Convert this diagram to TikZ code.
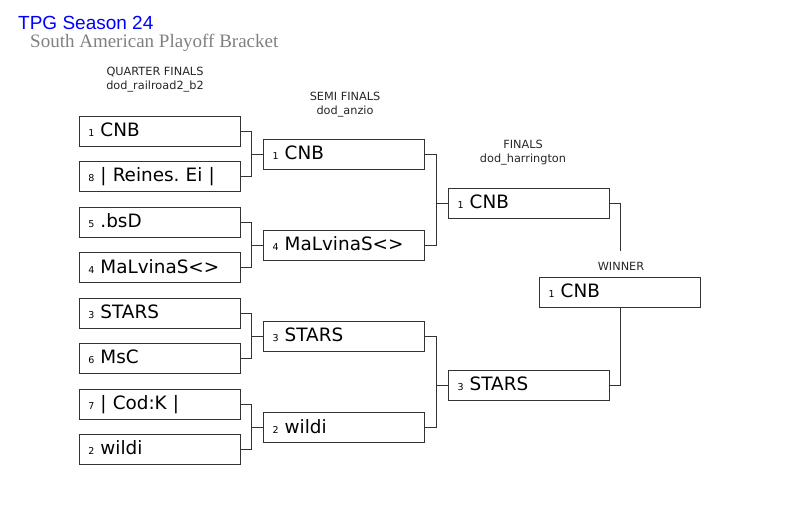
\documentclass[tikz,border=0pt]{standalone}
\usepackage{fontspec}
\setmainfont{DejaVu Sans}
\newfontfamily\titlefont{Liberation Sans}
\newfontfamily\subtitlefont{Liberation Serif}
\usepackage{xcolor}
\usetikzlibrary{calc}
\frenchspacing
\definecolor{titleblue}{RGB}{0,0,255}
\definecolor{subgray}{RGB}{128,128,128}
\tikzset{
	team/.style={
			draw=black!80, line width=0.9pt, rectangle,
			minimum width=161pt, minimum height=30pt,
			text width=143pt, inner xsep=9pt, inner ysep=0pt, align=left,
			text height=13.4pt, text depth=2pt,
			font=\fontsize{18.4}{20}\selectfont
		},
	roundlabel/.style={align=center, text=black!85, inner sep=0pt,
			font=\fontsize{11.3}{14}\selectfont},
	link/.style={draw=black!80, line width=0.9pt}
}
\newcommand{\seed}[1]{{\fontsize{9.5}{11}\selectfont #1}\ }

\begin{document}
\begin{tikzpicture}[x=1pt,y=-1pt]
		\useasboundingbox (0,0) rectangle (800,507);
		% Draw the title
		\node[anchor=base west, inner sep=0pt, text depth=0pt, text=titleblue, font=\titlefont\fontsize{19}{22}\selectfont] (title) at (18,29.5) {TPG Season 24};
		\node[anchor=base west, inner sep=0pt, text=subgray, font=\subtitlefont\fontsize{19}{22}\selectfont] (subtitle) at (30,47) {South American Playoff Bracket};
		% Draw the round labels
		\node[roundlabel] (qflabel) at (155,80) {QUARTER FINALS\\dod\_railroad2\_b2};
		\node[roundlabel] (sflabel) at (345,104.5) {SEMI FINALS\\dod\_anzio};
		\node[roundlabel] (flabel) at (523,152.5) {FINALS\\dod\_harrington};
		\node[roundlabel] (wlabel) at (621,266) {WINNER};
		% Draw the quarter finals
		\node[team] (q1) at (159.75,131) {\seed{1}CNB};
		\node[team] (q2) at (159.75,176) {\seed{8}| Reines. Ei |};
		\node[team] (q3) at (159.75,222) {\seed{5}.bsD};
		\node[team] (q4) at (159.75,267.7) {\seed{4}MaLvinaS<>};
		\node[team] (q5) at (159.75,313) {\seed{3}STARS};
		\node[team] (q6) at (159.75,358) {\seed{6}MsC};
		\node[team] (q7) at (159.75,404) {\seed{7}| Cod:K |};
		\node[team] (q8) at (159.75,449) {\seed{2}wildi};
		% Draw the semi finals
		\node[team] (s1) at (344,154) {\seed{1}CNB};
		\node[team] (s2) at (344,245) {\seed{4}MaLvinaS<>};
		\node[team] (s3) at (344,336) {\seed{3}STARS};
		\node[team] (s4) at (344,427.5) {\seed{2}wildi};
		% Draw the finals and the winner
		\node[team] (f1) at (529,203) {\seed{1}CNB};
		\node[team] (f2) at (529,385) {\seed{3}STARS};
		\node[team] (w) at (620,292) {\seed{1}CNB};
		% Draw the bracket lines
		\foreach \a/\b/\c in {q1/q2/s1,q3/q4/s2,q5/q6/s3,q7/q8/s4,s1/s2/f1,s3/s4/f2}{
			\draw[link] (\a.east) -| ($(\c.west)+(-11.3,0)$) -- (\c.west);
			\draw[link] (\b.east) -| ($(\c.west)+(-11.3,0)$);
		}
		\draw[link] (f1.east) -| ($(w.north)+(0,-26)$);
		\draw[link] (f2.east) -| (w.south);
	\end{tikzpicture}
\end{document}
